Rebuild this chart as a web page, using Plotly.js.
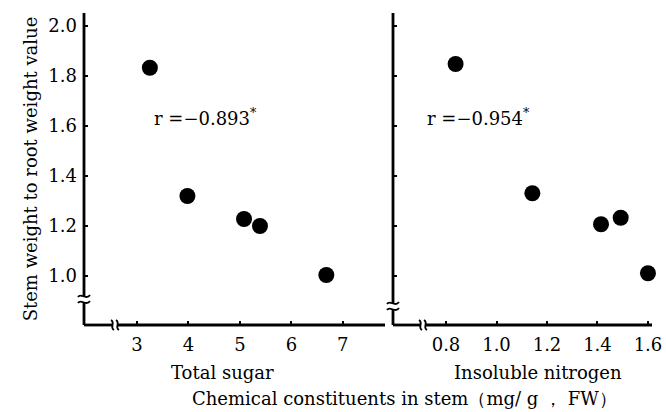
<!DOCTYPE html>
<html>
<head>
<meta charset="utf-8">
<script src="https://cdn.plot.ly/plotly-3.0.1.min.js"></script>
<style>html,body{margin:0;padding:0;background:#fff;}#chart{width:666px;height:412px;}</style>
</head>
<body>
<div id="chart"></div>
<script>
// Left panel: Total sugar (mg/g FW) vs stem/root weight ratio
const sugarX = [3.25, 3.98, 5.08, 5.39, 6.68];
const sugarY = [1.833, 1.32, 1.228, 1.20, 1.004];
// Right panel: Insoluble nitrogen (mg/g FW) vs stem/root weight ratio
const nitroX = [0.838, 1.142, 1.414, 1.492, 1.60];
const nitroY = [1.848, 1.331, 1.207, 1.233, 1.011];
const yTicks = [1.0, 1.2, 1.4, 1.6, 1.8, 2.0];
const sugarTicks = [3, 4, 5, 6, 7];
const nitroTicks = [0.8, 1.0, 1.2, 1.4, 1.6];
const rSugar = "−0.893";
const rNitro = "−0.954";

const FONT = "DejaVu Serif, Liberation Serif, serif";
const W = 666, H = 412;
const px = v => v / W;
const py = v => 1 - v / H;

// panel frame (pixels)
const L1 = 84, R1 = 385, L2 = 393, R2 = 652, TOP = 13, BOT = 325;

const marker = {color: "#000", size: 16, line: {width: 0}};
const traces = [
  {x: sugarX, y: sugarY, xaxis: "x", yaxis: "y", mode: "markers", type: "scatter", marker: marker, cliponaxis: false, hoverinfo: "x+y"},
  {x: nitroX, y: nitroY, xaxis: "x2", yaxis: "y2", mode: "markers", type: "scatter", marker: marker, cliponaxis: false, hoverinfo: "x+y"}
];

const yRange = [0.804, 2.052];
const axisCommon = {
  showline: false, showgrid: false, zeroline: false,
  ticks: "inside", ticklen: 4, tickwidth: 2, tickcolor: "#000",
  tickfont: {family: FONT, size: 18, color: "#000"}
};

// decorative axis lines with breaks, in paper coordinates
function seg(x0, y0, x1, y1) {
  return {type: "line", xref: "paper", yref: "paper", x0: px(x0), y0: py(y0), x1: px(x1), y1: py(y1),
          line: {color: "#000", width: 2.8}, layer: "above"};
}
function curve(p0, c1, c2, p1) {
  const f = p => px(p[0]).toFixed(5) + "," + py(p[1]).toFixed(5);
  return {type: "path", xref: "paper", yref: "paper",
          path: "M " + f(p0) + " C " + f(c1) + " " + f(c2) + " " + f(p1),
          line: {color: "#000", width: 1.8}, layer: "above"};
}
function yBreak(x, y) { // tilde pair across a vertical axis at pixel (x,y)
  return [
    seg(x, TOP, x, y - 3),
    seg(x, y + 3, x, BOT),
    curve([x - 6, y - 2], [x - 3, y - 7], [x + 2, y + 2], [x + 6, y - 4]),
    curve([x - 6, y + 4], [x - 3, y - 1], [x + 2, y + 8], [x + 6, y + 2])
  ];
}
function xBreak(x, y, right) { // S pair across a horizontal axis
  return [
    seg(x + 3, y, right, y),
    curve([x - 4, y - 5], [x + 1, y - 2], [x - 6, y + 2], [x - 1, y + 5]),
    curve([x + 1, y - 5], [x + 6, y - 2], [x - 1, y + 2], [x + 4, y + 5])
  ];
}

const layout = {
  width: W, height: H, autosize: false,
  margin: {l: 0, r: 0, t: 0, b: 0},
  paper_bgcolor: "#fff", plot_bgcolor: "rgba(0,0,0,0)",
  showlegend: false,
  font: {family: FONT, size: 18, color: "#000"},
  xaxis: Object.assign({}, axisCommon, {domain: [px(L1), px(R1)], range: [1.97, 7.82], anchor: "y",
    tickvals: sugarTicks, ticktext: sugarTicks.map(String), ticklabelstandoff: 7}),
  yaxis: Object.assign({}, axisCommon, {domain: [py(BOT), py(TOP)], range: yRange, anchor: "x",
    tickvals: yTicks, ticktext: yTicks.map(v => v.toFixed(1)), ticklabelstandoff: 6,
    title: {text: "Stem weight to root weight value", font: {family: FONT, size: 18, color: "#000"}, standoff: 6}}),
  xaxis2: Object.assign({}, axisCommon, {domain: [px(L2), px(R2)], range: [0.59, 1.616], anchor: "y2",
    tickvals: nitroTicks, ticktext: nitroTicks.map(v => v.toFixed(1)), ticklabelstandoff: 7}),
  yaxis2: Object.assign({}, axisCommon, {domain: [py(BOT), py(TOP)], range: yRange, anchor: "x2",
    tickvals: yTicks, showticklabels: false}),
  shapes: [].concat(
    yBreak(L1, 299),
    [seg(L1, BOT, 112, BOT)],
    xBreak(115, BOT, R1),
    yBreak(L2, 306),
    [seg(L2, BOT, 420, BOT)],
    xBreak(423, BOT, R2)
  ),
  annotations: [
    {xref: "x", yref: "y", x: 3.3, y: 1.635, xanchor: "left", yanchor: "middle", showarrow: false,
     text: "r =" + rSugar + "<sup>*</sup>", font: {family: FONT, size: 18, color: "#000"}},
    {xref: "x2", yref: "y2", x: 0.715, y: 1.635, xanchor: "left", yanchor: "middle", showarrow: false,
     text: "r =" + rNitro + "<sup>*</sup>", font: {family: FONT, size: 18, color: "#000"}},
    {xref: "paper", yref: "paper", x: px(222), y: py(372), xanchor: "center", yanchor: "middle", showarrow: false,
     text: "Total sugar", font: {family: FONT, size: 18, color: "#000"}},
    {xref: "paper", yref: "paper", x: px(538), y: py(372), xanchor: "center", yanchor: "middle", showarrow: false,
     text: "Insoluble nitrogen", font: {family: FONT, size: 18, color: "#000"}},
    {xref: "paper", yref: "paper", x: px(404), y: py(398), xanchor: "center", yanchor: "middle", showarrow: false,
     text: "Chemical constituents in stem（mg/ g ， FW）", font: {family: FONT, size: 18, color: "#000"}}
  ]
};

Plotly.newPlot("chart", traces, layout, {displayModeBar: false, staticPlot: true});
</script>
</body>
</html>
